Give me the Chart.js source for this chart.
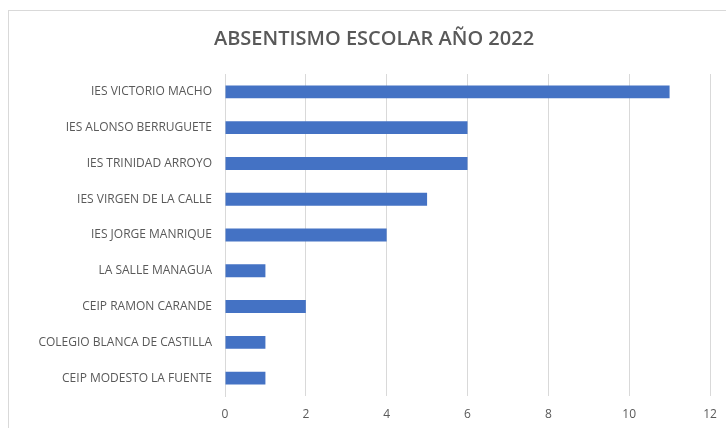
<!DOCTYPE html>
<html>
<head>
<meta charset="utf-8">
<script src="https://cdn.jsdelivr.net/npm/chart.js@4/dist/chart.umd.min.js"></script>
<style>
  html, body { margin: 0; padding: 0; background: #fff; }
  #wrap { position: relative; width: 726px; height: 428px; overflow: hidden; }
  #frame { position: absolute; left: 8px; top: 10px; width: 800px; height: 500px; border: 1px solid #d9d9d9; }
  canvas { position: absolute; left: 0; top: 0; }
</style>
</head>
<body>
<div id="wrap">
  <div id="frame"></div>
  <canvas id="chart" width="726" height="428"></canvas>
</div>
<script>
// Absentismo escolar 2022 - horizontal bar chart

const schools = [
  'IES VICTORIO MACHO', 'IES ALONSO BERRUGUETE', 'IES TRINIDAD ARROYO',
  'IES VIRGEN DE LA CALLE', 'IES JORGE MANRIQUE', 'LA SALLE MANAGUA',
  'CEIP RAMON CARANDE', 'COLEGIO BLANCA DE CASTILLA', 'CEIP MODESTO LA FUENTE'
];
const absences = [11, 6, 6, 5, 4, 1, 2, 1, 1];
const xTicks = [0, 2, 4, 6, 8, 10, 12];

const textColor = '#595959';
const gridColor = '#d9d9d9';
const tickFont = { family: "'Open Sans', 'Liberation Sans', sans-serif", size: 12 };

const ctx = document.getElementById('chart').getContext('2d');
new Chart(ctx, {
  type: 'bar',
  data: {
    labels: schools,
    datasets: [{
      label: 'Absentismo',
      data: absences,
      backgroundColor: '#4472c4',
      borderWidth: 0,
      categoryPercentage: 1,
      barPercentage: 0.36
    }]
  },
  options: {
    indexAxis: 'y',
    responsive: false,
    animation: false,
    layout: {
      padding: { left: 22, right: 0, top: 10, bottom: 7 }
    },
    plugins: {
      legend: { display: false },
      tooltip: { enabled: false },
      title: {
        display: true,
        text: 'ABSENTISMO ESCOLAR AÑO 2022',
        color: textColor,
        font: { family: "'Open Sans', 'Liberation Sans', sans-serif", size: 20, weight: '600' },
        padding: { top: 17, bottom: 23 }
      }
    },
    scales: {
      x: {
        min: 0,
        max: 12,
        afterBuildTicks: function(scale) {
          scale.ticks = xTicks.map(v => ({ value: v }));
        },
        afterFit: function(scale) {
          scale.paddingRight = 16;
          scale.height = 25;
        },
        grid: { color: gridColor, drawTicks: false },
        border: { display: false },
        ticks: {
          color: textColor,
          padding: 11,
          font: tickFont
        }
      },
      y: {
        afterFit: function(scale) {
          scale.width = 203;
        },
        grid: { display: false, drawTicks: false },
        border: { display: true, color: gridColor },
        ticks: {
          color: textColor,
          padding: 13,
          font: tickFont
        }
      }
    }
  }
});
</script>
</body>
</html>
